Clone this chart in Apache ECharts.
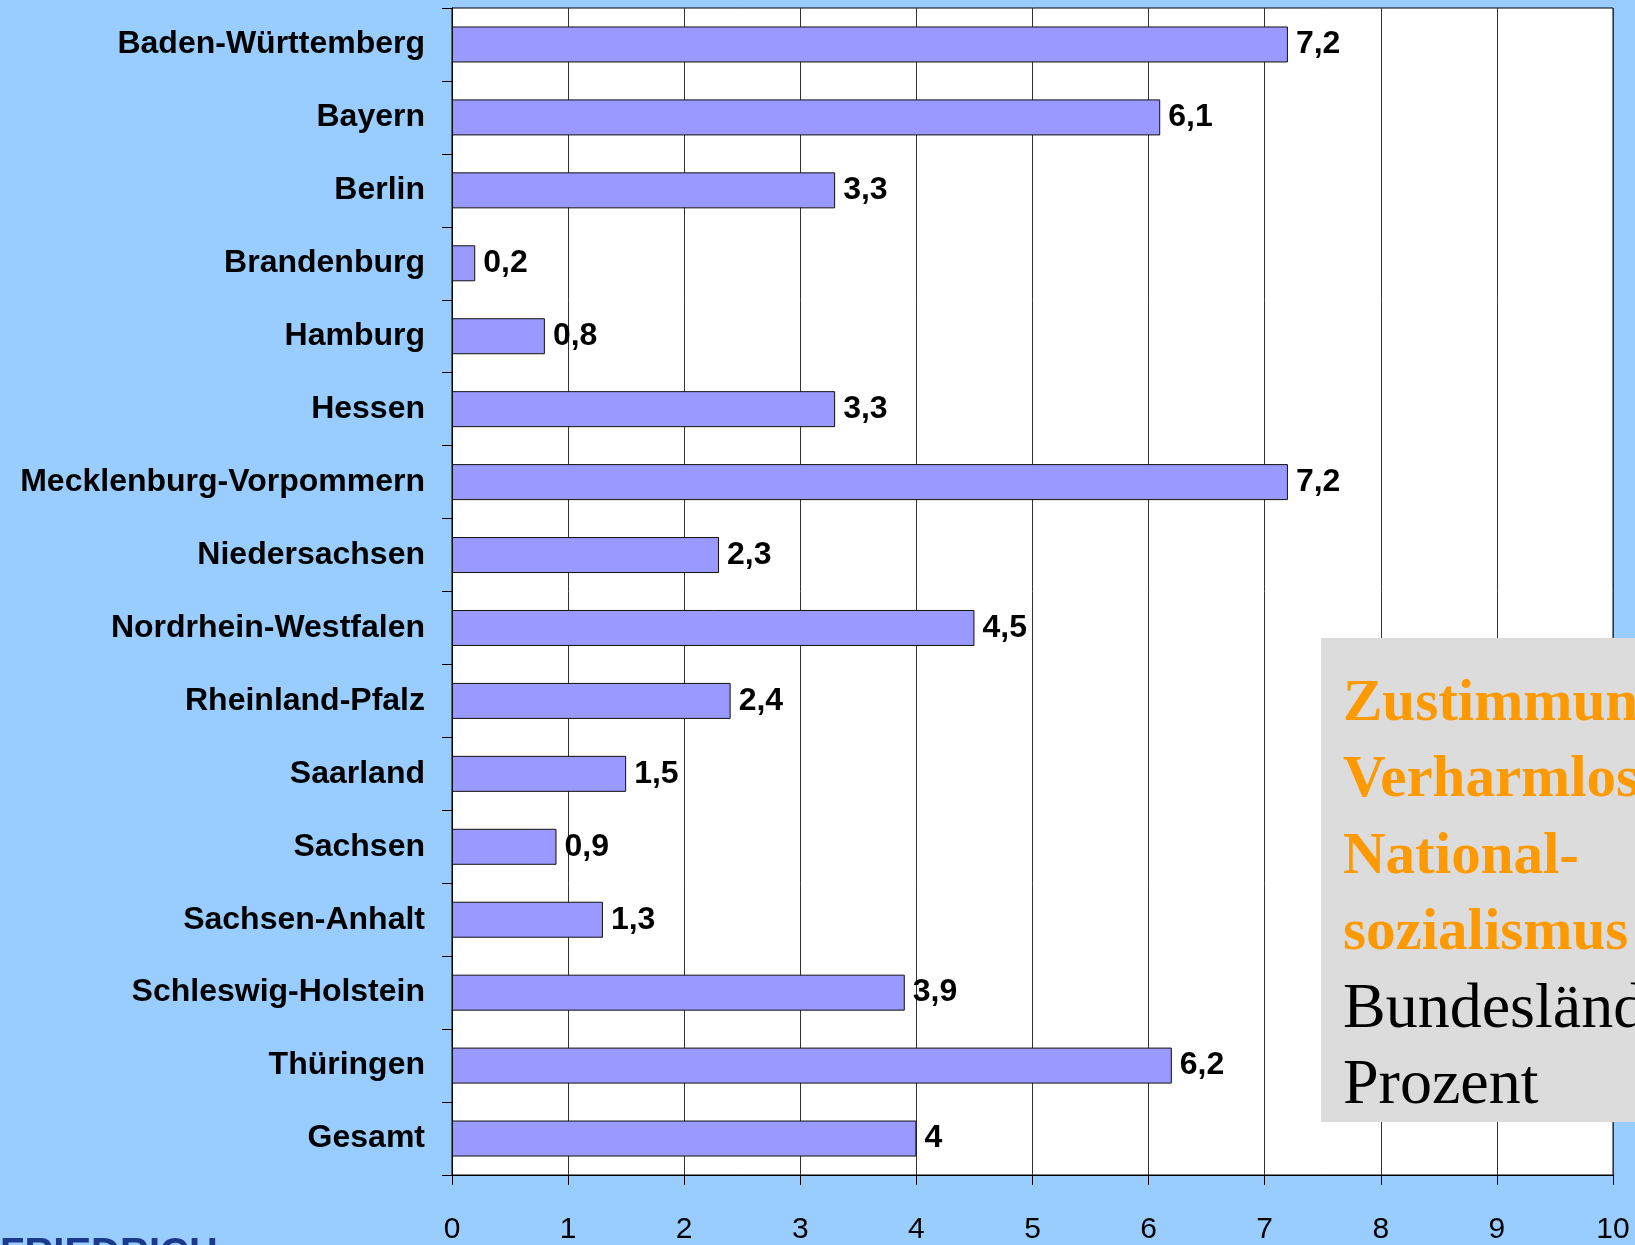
<!DOCTYPE html>
<html>
<head>
<meta charset="utf-8">
<script src="https://cdn.jsdelivr.net/npm/echarts@6/dist/echarts.min.js"></script>
<style>
  html, body { margin: 0; padding: 0; background: #99ccff; }
  #chart { width: 1635px; height: 1245px; }
</style>
</head>
<body>
<div id="chart"></div>
<script>
  // Bundesländer und Werte (Prozent)
  var laender = ['Baden-Württemberg', 'Bayern', 'Berlin', 'Brandenburg', 'Hamburg', 'Hessen',
    'Mecklenburg-Vorpommern', 'Niedersachsen', 'Nordrhein-Westfalen', 'Rheinland-Pfalz',
    'Saarland', 'Sachsen', 'Sachsen-Anhalt', 'Schleswig-Holstein', 'Thüringen', 'Gesamt'];
  var werte = [7.2, 6.1, 3.3, 0.2, 0.8, 3.3, 7.2, 2.3, 4.5, 2.4, 1.5, 0.9, 1.3, 3.9, 6.2, 4];
  var titelOrange = ['Zustimmung', 'Verharmlosung', 'National-', 'sozialismus'];
  var titelSchwarz = ['Bundesländer in', 'Prozent'];

  var sans = '"Liberation Sans", Arial, sans-serif';
  var serif = '"Liberation Serif", "Times New Roman", serif';

  var textLines = [];
  titelOrange.concat(titelSchwarz).forEach(function (t, i) {
    var bold = i < titelOrange.length;
    textLines.push({
      type: 'text',
      left: 1343,
      top: (bold ? 675 : 672) + i * 76.5,
      z: 101,
      style: {
        text: t,
        fill: bold ? '#ff9900' : '#000',
        font: bold ? 'bold 59px ' + serif : '64px ' + serif
      }
    });
  });

  var myChart = echarts.init(document.getElementById('chart'));
  myChart.setOption({
    backgroundColor: '#99ccff',
    animation: false,
    grid: {
      left: 452,
      right: 22,
      top: 8,
      bottom: 66,
      show: true,
      backgroundColor: '#fff',
      borderColor: '#000',
      borderWidth: 1
    },
    xAxis: {
      type: 'value',
      min: 0,
      max: 10,
      interval: 1,
      axisLine: { show: true, lineStyle: { color: '#000', width: 1 } },
      axisTick: { show: true, length: 10, lineStyle: { color: '#000' } },
      axisLabel: { margin: 40, fontSize: 30, color: '#000', fontFamily: sans },
      splitLine: { show: true, lineStyle: { color: '#333', width: 1 } }
    },
    yAxis: {
      type: 'category',
      inverse: true,
      data: laender,
      axisLine: { show: true, lineStyle: { color: '#000', width: 1 } },
      axisTick: { show: true, length: 10, lineStyle: { color: '#000' } },
      axisLabel: { margin: 27, fontSize: 32, fontWeight: 'bold', color: '#000', fontFamily: sans }
    },
    series: [{
      type: 'bar',
      data: werte,
      barWidth: 36,
      itemStyle: { color: '#9999ff', borderColor: '#111', borderWidth: 1 },
      label: {
        show: true,
        position: 'right',
        distance: 8,
        fontSize: 32,
        fontWeight: 'bold',
        color: '#000',
        fontFamily: sans,
        formatter: function (p) { return String(p.value).replace('.', ','); }
      }
    }],
    graphic: [
      {
        type: 'rect',
        z: 100,
        shape: { x: 1321, y: 638, width: 400, height: 484 },
        style: { fill: '#dcdcdc' }
      }
    ].concat(textLines).concat([
      {
        type: 'text',
        left: 0,
        top: 1235,
        z: 100,
        style: { text: 'FRIEDRICH', fill: '#1b3a8c', font: 'bold 40px ' + sans }
      }
    ])
  });
</script>
</body>
</html>
